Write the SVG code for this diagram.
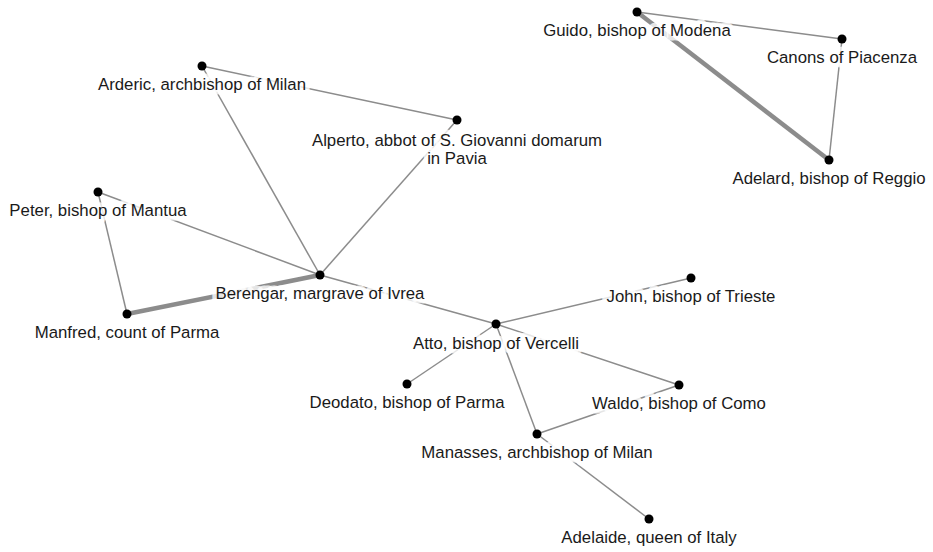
<svg xmlns="http://www.w3.org/2000/svg" width="933" height="552" viewBox="0 0 933 552">
<style>
.e{stroke:#8c8c8c;stroke-width:1.5;fill:none}
.t{stroke:#8c8c8c;stroke-width:4.5;fill:none}
.n circle{fill:#000}
.n text{font-family:"Liberation Sans",Arial,sans-serif;font-size:16.8px;fill:#1a1a1a;text-anchor:middle;stroke:#fff;stroke-opacity:0.8;stroke-width:9;stroke-linejoin:round;paint-order:stroke}
</style>
<rect width="933" height="552" fill="#fff"/>
<g id="edges">
<line class="e" x1="202" y1="66" x2="457" y2="120"/>
<line class="e" x1="202" y1="66" x2="320" y2="275"/>
<line class="e" x1="457" y1="120" x2="320" y2="275"/>
<line class="e" x1="98" y1="192" x2="320" y2="275"/>
<line class="e" x1="98" y1="192" x2="127" y2="314"/>
<line class="t" x1="127" y1="314" x2="320" y2="275"/>
<line class="e" x1="320" y1="275" x2="496" y2="324"/>
<line class="e" x1="496" y1="324" x2="691" y2="278"/>
<line class="e" x1="496" y1="324" x2="407" y2="384"/>
<line class="e" x1="496" y1="324" x2="679" y2="385"/>
<line class="e" x1="496" y1="324" x2="537" y2="434"/>
<line class="e" x1="537" y1="434" x2="679" y2="385"/>
<line class="e" x1="537" y1="434" x2="649" y2="519"/>
<line class="e" x1="637" y1="12" x2="842" y2="39"/>
<line class="t" x1="637" y1="12" x2="829" y2="160"/>
<line class="e" x1="842" y1="39" x2="829" y2="160"/>
</g>
<g id="arderic" class="n"><circle cx="202" cy="66" r="4.5"/><text x="202" y="90">Arderic, archbishop of Milan</text></g>
<g id="alperto" class="n"><circle cx="457" cy="120" r="4.5"/><text x="457" y="145.5">Alperto, abbot of S. Giovanni domarum</text><text x="457" y="164">in Pavia</text></g>
<g id="peter" class="n"><circle cx="98" cy="192" r="4.5"/><text x="98" y="216">Peter, bishop of Mantua</text></g>
<g id="berengar" class="n"><circle cx="320" cy="275" r="4.5"/><text x="320" y="299">Berengar, margrave of Ivrea</text></g>
<g id="manfred" class="n"><circle cx="127" cy="314" r="4.5"/><text x="127" y="338">Manfred, count of Parma</text></g>
<g id="atto" class="n"><circle cx="496" cy="324" r="4.5"/><text x="496" y="348.5">Atto, bishop of Vercelli</text></g>
<g id="john" class="n"><circle cx="691" cy="278" r="4.5"/><text x="691" y="302">John, bishop of Trieste</text></g>
<g id="deodato" class="n"><circle cx="407" cy="384" r="4.5"/><text x="407" y="408">Deodato, bishop of Parma</text></g>
<g id="waldo" class="n"><circle cx="679" cy="385" r="4.5"/><text x="679" y="409">Waldo, bishop of Como</text></g>
<g id="manasses" class="n"><circle cx="537" cy="434" r="4.5"/><text x="537" y="458">Manasses, archbishop of Milan</text></g>
<g id="adelaide" class="n"><circle cx="649" cy="519" r="4.5"/><text x="649" y="543">Adelaide, queen of Italy</text></g>
<g id="guido" class="n"><circle cx="637" cy="12" r="4.5"/><text x="637" y="36">Guido, bishop of Modena</text></g>
<g id="canons" class="n"><circle cx="842" cy="39" r="4.5"/><text x="842" y="63">Canons of Piacenza</text></g>
<g id="adelard" class="n"><circle cx="829" cy="160" r="4.5"/><text x="829" y="184">Adelard, bishop of Reggio</text></g>
</svg>
